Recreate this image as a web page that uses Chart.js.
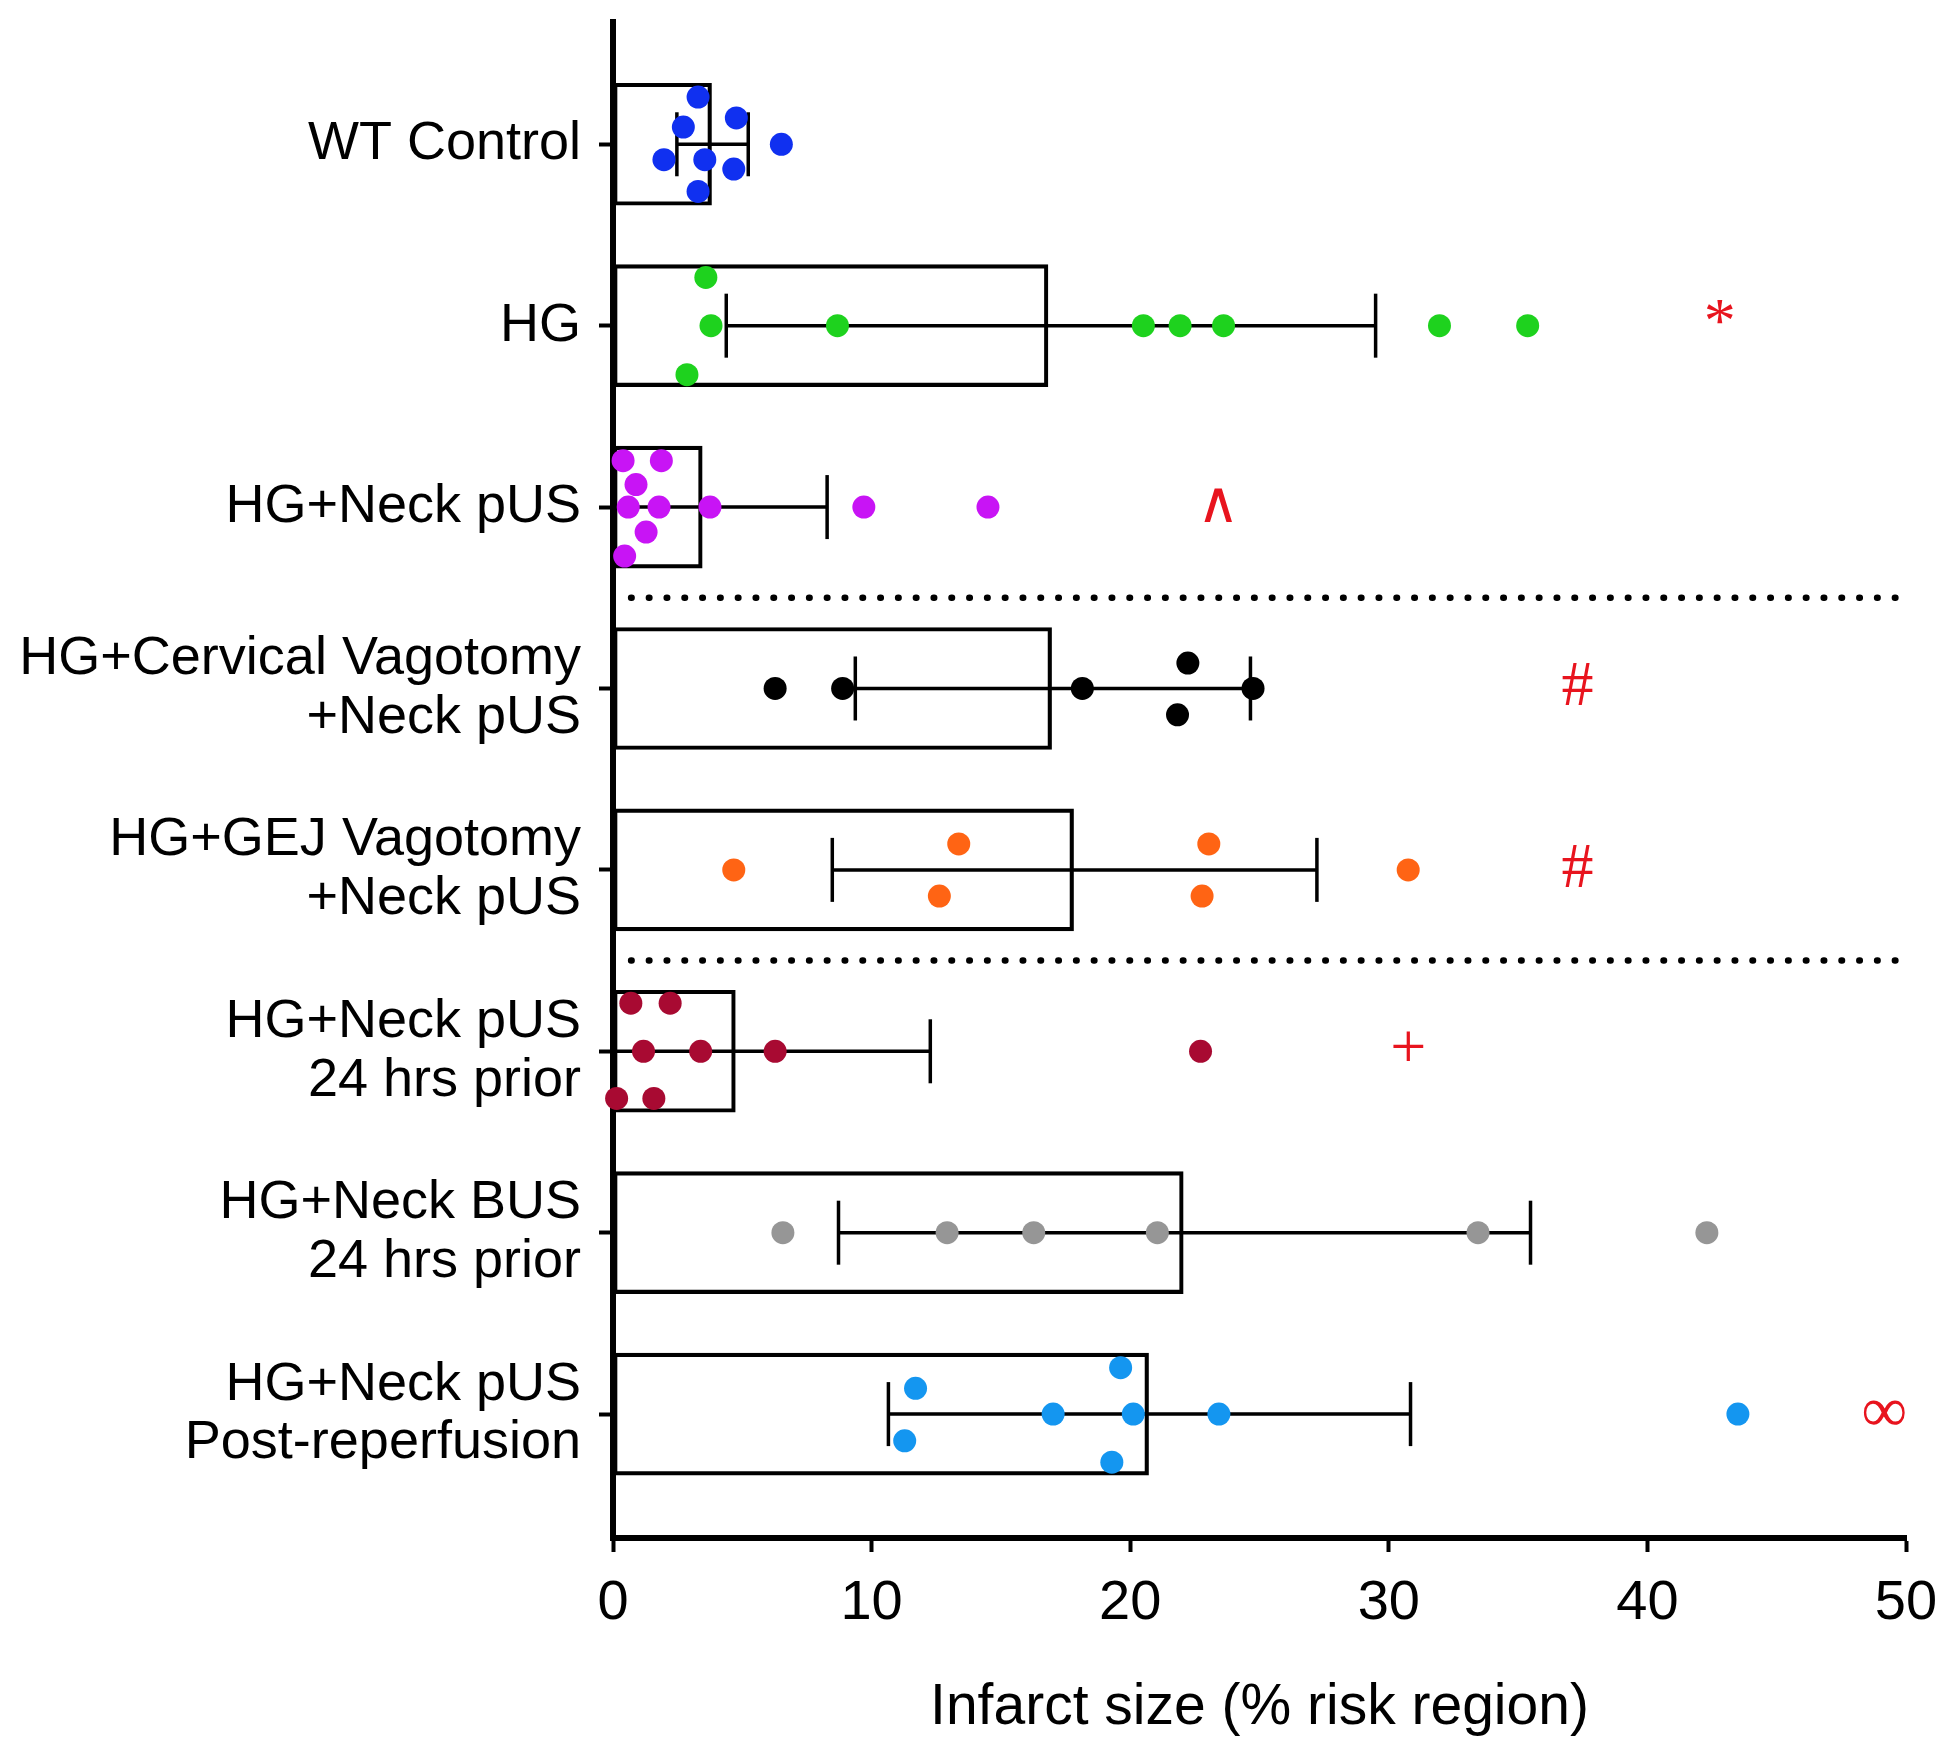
<!DOCTYPE html>
<html>
<head>
<meta charset="utf-8">
<script src="https://cdn.jsdelivr.net/npm/chart.js@4.4.1/dist/chart.umd.min.js"></script>
<style>
  html, body { margin: 0; padding: 0; background: #fff; }
  canvas { display: block; }
</style>
</head>
<body>
<canvas id="chart" width="1950" height="1763"></canvas>
<script>
// groups, top to bottom
const categories = [
  ["WT Control"],
  ["HG"],
  ["HG+Neck pUS"],
  ["HG+Cervical Vagotomy", "+Neck pUS"],
  ["HG+GEJ Vagotomy", "+Neck pUS"],
  ["HG+Neck pUS", "24 hrs prior"],
  ["HG+Neck BUS", "24 hrs prior"],
  ["HG+Neck pUS", "Post-reperfusion"]
];

// bar = mean, whiskers = low / high end of the error bar
const means   = [3.81, 16.82, 3.45, 16.96, 17.81, 4.73, 22.05, 20.71];
const errLow  = [2.47, 4.38, 0, 9.37, 8.48, 0, 8.72, 10.65];
const errHigh = [5.23, 29.49, 8.28, 24.65, 27.22, 12.27, 35.48, 30.84];

// individual animals
const wtPoints       = [3.29, 4.77, 2.72, 6.51, 1.97, 3.55, 4.67, 3.29];
const hgPoints       = [3.59, 3.79, 8.68, 20.51, 21.93, 23.61, 31.96, 35.37, 2.86];
const neckPoints     = [0.39, 1.87, 0.89, 0.59, 1.78, 3.75, 9.70, 14.5, 1.28, 0.45];
const cervicalPoints = [6.27, 8.88, 18.15, 22.23, 24.75, 21.83];
const gejPoints      = [4.67, 13.37, 12.62, 23.04, 22.78, 30.75];
const prior24Points  = [0.69, 2.21, 1.18, 3.39, 6.27, 22.72, 0.14, 1.58];
const busPoints      = [6.57, 12.92, 16.27, 21.05, 33.45, 42.3];
const postPoints     = [19.63, 11.70, 17.02, 20.12, 23.43, 43.5, 11.28, 19.29];
const pointValues = [wtPoints, hgPoints, neckPoints, cervicalPoints, gejPoints, prior24Points, busPoints, postPoints];

// significance marks and where they sit on the x axis
const marks  = ["", "*", "\u2227", "#", "#", "+", "", "\u221E"];
const markAt = [null, 42.8, 23.4, 37.3, 37.3, 30.75, null, 49.16];

// dotted separators between blocks of groups
const separators = [2.5, 4.5];

// layout only: vertical spread of the dots inside a row (swarm)
const swarm = [
  [-0.26, -0.145, -0.095, 0, 0.085, 0.085, 0.137, 0.26],
  [-0.266, 0, 0, 0, 0, 0, 0, 0, 0.27],
  [-0.256, -0.256, -0.124, 0, 0, 0, 0, 0, 0.138, 0.27],
  [0, 0, 0, -0.14, 0, 0.145],
  [0, -0.143, 0.144, -0.143, 0.144, 0],
  [-0.265, -0.265, 0, 0, 0, 0, 0.26, 0.26],
  [0, 0, 0, 0, 0, 0],
  [-0.256, -0.142, 0, 0, 0, 0, 0.147, 0.265]
];
const pointColors = ["#1030f0", "#1ed21e", "#c814f5", "#000000", "#ff6414", "#a80a32", "#969696", "#1496f0"];

Chart.defaults.font.family = "'Liberation Sans', Arial, sans-serif";
Chart.defaults.color = "#000";

const datasets = [];

pointValues.forEach((vals, i) => {
  datasets.push({
    type: "scatter",
    data: vals.map((v, j) => ({ x: v, y: i + swarm[i][j] })),
    backgroundColor: pointColors[i],
    borderWidth: 0,
    pointRadius: 11.5,
    pointHoverRadius: 11.5,
    clip: false,
    order: 0
  });
});

const errData = [];
means.forEach((m, i) => {
  errData.push({ x: errLow[i], y: i }, { x: errHigh[i], y: i }, { x: null, y: i });
});
datasets.push({
  type: "line",
  data: errData,
  borderColor: "#000",
  borderWidth: 3.5,
  pointStyle: "line",
  rotation: 90,
  pointRadius: 32,
  pointBorderWidth: 3.5,
  pointBorderColor: "#000",
  spanGaps: false,
  clip: false,
  order: 1
});

datasets.push({
  type: "bar",
  data: means.map((m, i) => ({ x: m, y: i })),
  backgroundColor: "rgba(0,0,0,0)",
  borderColor: "#000",
  borderWidth: 3.5,
  borderSkipped: false,
  barThickness: 122,
  order: 2
});

separators.forEach(s => {
  datasets.push({
    type: "line",
    data: [{ x: 0.7, y: s }, { x: 49.8, y: s }],
    borderColor: "#000",
    borderWidth: 6.5,
    borderDash: [0.5, 17.3],
    borderCapStyle: "round",
    pointRadius: 0,
    order: 3
  });
});

// red significance symbols, placed through the scales
const markPlugin = {
  id: "marks",
  afterDatasetsDraw(chart) {
    const { ctx, scales: { x, y } } = chart;
    ctx.save();
    ctx.fillStyle = "#e8141e";
    ctx.textAlign = "center";
    ctx.textBaseline = "middle";
    marks.forEach((m, i) => {
      if (!m) return;
      ctx.font = m === "\u2227" ? "58px 'DejaVu Sans'" : "64px 'Liberation Serif'";
      ctx.fillText(m, x.getPixelForValue(markAt[i]), y.getPixelForValue(i));
    });
    ctx.restore();
  }
};

new Chart(document.getElementById("chart"), {
  type: "bar",
  data: { datasets },
  plugins: [markPlugin],
  options: {
    indexAxis: "y",
    responsive: false,
    animation: false,
    layout: { autoPadding: false, padding: { top: 22, right: 44, left: 0, bottom: 0 } },
    plugins: { legend: { display: false }, tooltip: { enabled: false } },
    scales: {
      x: {
        type: "linear",
        min: 0,
        max: 50,
        ticks: { stepSize: 10, padding: 18, font: { size: 56 }, color: "#000" },
        grid: { drawOnChartArea: false, tickLength: 14, tickWidth: 4, tickColor: "#000" },
        border: { display: true, color: "#000", width: 6 },
        title: {
          display: true,
          text: "Infarct size (% risk region)",
          font: { size: 57 },
          color: "#000",
          padding: { top: 0, bottom: 21 }
        },
        afterFit: s => { s.height = 225; s.paddingLeft = 0; s.paddingRight = 0; }
      },
      y: {
        type: "linear",
        reverse: true,
        min: -0.674,
        max: 7.683,
        offset: false,
        ticks: {
          stepSize: 1,
          autoSkip: false,
          padding: 18,
          font: { size: 54, lineHeight: 1.09 },
          color: "#000",
          callback: v => categories[v]
        },
        afterBuildTicks: s => {
          s.ticks = s.ticks.filter(t => Number.isInteger(t.value) && t.value >= 0 && t.value < categories.length);
        },
        grid: { offset: false, drawOnChartArea: false, tickLength: 14, tickWidth: 4, tickColor: "#000" },
        border: { display: true, color: "#000", width: 6 },
        afterFit: s => { s.width = 613; s.paddingTop = 0; s.paddingBottom = 0; }
      }
    }
  }
});
</script>
</body>
</html>
